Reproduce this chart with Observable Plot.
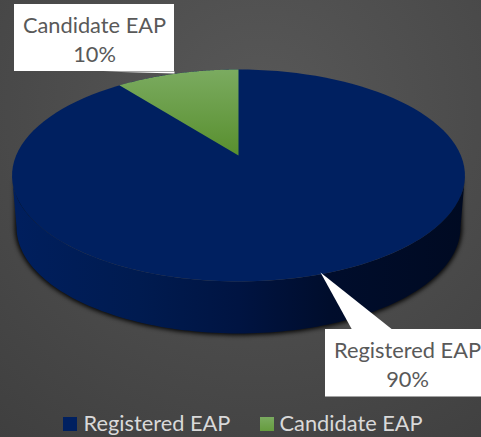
<!DOCTYPE html>
<html><head><meta charset="utf-8">
<script src="https://cdn.jsdelivr.net/npm/d3@7"></script>
<script src="https://cdn.jsdelivr.net/npm/@observablehq/plot@0.6"></script>
<style>html,body{margin:0;padding:0;background:#444}svg{display:block}</style>
</head><body>
<div id="chart"></div>
<script>
const categories = ["Registered EAP", "Candidate EAP"];
const shares = [89.45, 10.55];
const shareLabels = ["90%", "10%"];
const colors = ["#002060", "url(#green)"];
const swatches = ["#002060", "url(#greenSwatch)"];
const titleText = "EAPs";

// Tilted-disc projection of the pie
const cx = 238, cy = 155, a = 222.4, b = 102.2, k = 0.1887, depth = 52, shrink = 0.98;
const proj = (t, d = 0) => {
  const u = Math.sin(t), v = Math.cos(t), w = 1 + k * v, s = d ? shrink : 1;
  return {x: cx + s * a * u / w, y: cy - b * v / w + d};
};
const arcPts = (t0, t1, d = 0, n = 120) => d3.range(n + 1).map(i => proj(t0 + (t1 - t0) * i / n, d));
const slices = d3.pie().sort(null).value(d => d)(shares);
const wedges = slices.map((s, i) => ({
  fill: colors[i],
  pts: [{x: cx, y: cy}, ...arcPts(s.startAngle, s.endAngle), {x: cx, y: cy}]
}));
const full = arcPts(0, 2 * Math.PI);
const tRight = Math.acos(-k), tLeft = 2 * Math.PI - tRight;
const side = [...arcPts(tRight, tLeft), ...arcPts(tRight, tLeft, depth).reverse()];
const shadow = [...arcPts(tRight, tLeft, 6), ...arcPts(tRight, tLeft, depth).reverse()];

const defs = () => {
  const ns = "http://www.w3.org/2000/svg";
  const d = document.createElementNS(ns, "defs");
  d.innerHTML = `
  <linearGradient id="green" gradientUnits="userSpaceOnUse" x1="0" y1="69" x2="0" y2="155">
    <stop offset="0" stop-color="#7bab60"/><stop offset="1" stop-color="#588f2e"/>
  </linearGradient>
  <linearGradient id="greenSwatch" x1="0" y1="0" x2="0" y2="1">
    <stop offset="0" stop-color="#7bab60"/><stop offset="1" stop-color="#669c3e"/>
  </linearGradient>
  <linearGradient id="rim" gradientUnits="userSpaceOnUse" x1="11" y1="0" x2="465" y2="0">
    <stop offset="0" stop-color="#001f5e"/><stop offset=".28" stop-color="#001b50"/>
    <stop offset=".5" stop-color="#001442"/><stop offset=".7" stop-color="#000d2c"/>
    <stop offset="1" stop-color="#000a22"/>
  </linearGradient>
  <radialGradient id="bg" gradientUnits="userSpaceOnUse" cx="260" cy="110" r="420">
    <stop offset="0" stop-color="#585858"/><stop offset="1" stop-color="#3f3f3f"/>
  </radialGradient>`;
  return d;
};
const xy = {x: "x", y: "y"};
const poly = (pts, o) => Plot.line(pts, {...xy, curve: "linear-closed", stroke: "none", ...o});

const chart = Plot.plot({
  width: 481, height: 437, margin: 0,
  x: {domain: [0, 481], range: [0, 481], axis: null},
  y: {domain: [0, 437], range: [0, 437], axis: null},
  marks: [
    defs,
    Plot.rect([0], {x1: 0, x2: 481, y1: 0, y2: 437, fill: "url(#bg)"}),
    Plot.text([titleText], {x: 236, y: -3, text: d => d, lineAnchor: "bottom", fontSize: 37, fontFamily: "Lato", fill: "#3f3f3f"}),
    poly(shadow, {fill: "#000", stroke: "#000", strokeWidth: 4, strokeOpacity: 0.8, fillOpacity: 0.85, imageFilter: "blur(2px)"}),
    poly(side, {fill: "url(#rim)"}),
    poly(full, {fill: colors[0]}),
    ...wedges.slice(1).map(w => poly(w.pts, {fill: w.fill})),
    // callouts
    poly([{x: 320, y: 272}, {x: 352, y: 330}, {x: 393, y: 330}], {fill: "#fff"}),
    poly([{x: 103, y: 71}, {x: 174, y: 73}, {x: 174, y: 71}], {fill: "#fff"}),
    Plot.rect([0], {x1: 14, x2: 174, y1: 4, y2: 71, fill: "#fff"}),
    Plot.rect([0], {x1: 325, x2: 481, y1: 329, y2: 396.5, fill: "#fff"}),
    Plot.text([`${categories[1]}\n${shareLabels[1]}`], {x: 94, y: 38, text: d => d, fontSize: 21.8, lineHeight: 1.33, fontFamily: "Lato", fill: "#595959"}),
    Plot.text([`${categories[0]}\n${shareLabels[0]}`], {x: 407, y: 363, text: d => d, fontSize: 21.8, lineHeight: 1.33, fontFamily: "Lato", fill: "#595959"}),
    // legend
    Plot.rect([0, 1], {x1: i => [63, 260][i], x2: i => [77, 274][i], y1: 417, y2: 431, fill: i => swatches[i]}),
    Plot.text(categories, {x: (d, i) => [83, 279][i], y: 424, text: d => d, textAnchor: "start", fontSize: 21.8, fontFamily: "Lato", fill: "#d9d9d9"})
  ]
});
document.getElementById("chart").append(chart);
</script>
</body></html>
